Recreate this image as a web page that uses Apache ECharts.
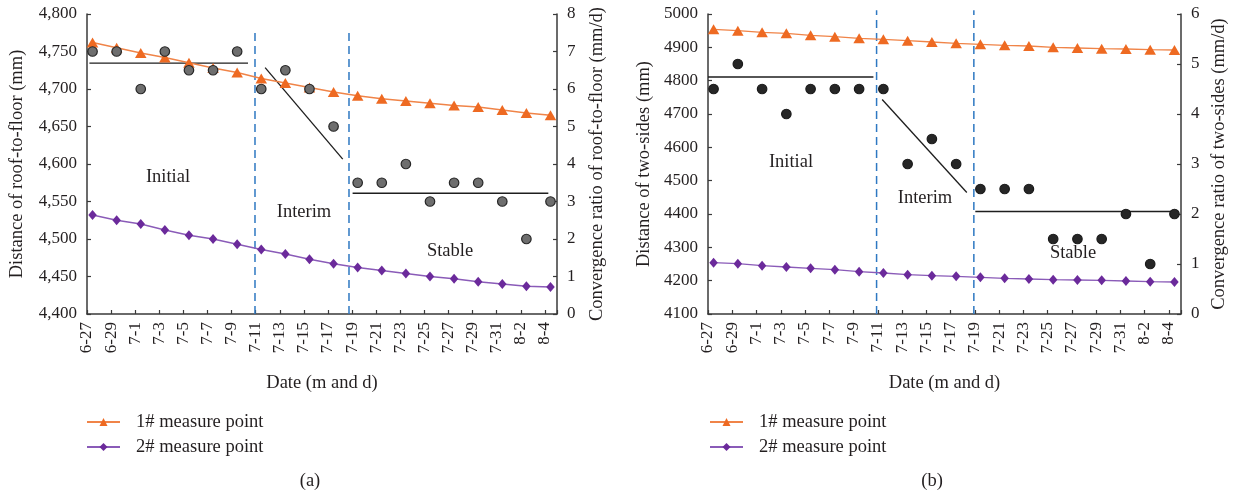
<!DOCTYPE html>
<html>
<head>
<meta charset="utf-8">
<script src="https://cdn.jsdelivr.net/npm/echarts@6/dist/echarts.min.js"></script>
<style>html,body{margin:0;padding:0;background:#fff}#c{width:1239px;height:494px}</style>
</head>
<body>
<div id="c"></div>
<script>
// ---- data ----
const dates = ['6-27','6-29','7-1','7-3','7-5','7-7','7-9','7-11','7-13','7-15','7-17','7-19','7-21','7-23','7-25','7-27','7-29','7-31','8-2','8-4'];
const seriesNames = ['1# measure point', '2# measure point'];

// (a) roof-to-floor
const roofPoint1 = [4762,4755,4748,4742,4735,4728,4722,4714,4708,4702,4696,4691,4687,4684,4681,4678,4676,4672,4668,4665];
const roofPoint2 = [4532,4525,4520,4512,4505,4500,4493,4486,4480,4473,4467,4462,4458,4454,4450,4447,4443,4440,4437,4436];
const roofRatio  = [7,7,6,7,6.5,6.5,7,6,6.5,6,5,3.5,3.5,4,3,3.5,3.5,3,2,3];
const roofTrendInitial = [[0.1,6.69],[6.68,6.69]];
const roofTrendInterim = [[7.39,6.57],[10.61,4.13]];
const roofTrendStable  = [[11.02,3.22],[19.14,3.22]];
const roofDividers = [6.97, 10.87];

// (b) two-sides
const sidePoint1 = [4954,4950,4945,4942,4936,4932,4927,4924,4920,4916,4912,4909,4906,4904,4900,4898,4896,4895,4893,4892];
const sidePoint2 = [4254,4251,4245,4241,4237,4233,4227,4223,4218,4215,4213,4210,4207,4205,4203,4202,4201,4199,4197,4196];
const sideRatio  = [4.5,5,4.5,4,4.5,4.5,4.5,4.5,3,3.5,3,2.5,2.5,2.5,1.5,1.5,1.5,2,1,2];
const sideTrendInitial = [[0.0,4.74],[6.82,4.74]];
const sideTrendInterim = [[7.18,4.29],[10.67,2.43]];
const sideTrendStable  = [[11.02,2.05],[19.24,2.05]];
const sideDividers = [6.95, 10.96];

const stageLabels = ['Initial','Interim','Stable'];

// ---- style ----
const FONT = 'Liberation Serif';
const TXT = '#231f20';
const AX = '#3a3a3a';
const OFFSET = 0.23;  // point position within a date slot
const ORANGE = '#EE6A22', ORANGE_LINE = '#F08448';
const PURPLE = '#6B2A9B', PURPLE_LINE = '#8A5BB8';
const BLUE = '#2E78C2';

function xAxis(gi){
  return {
    type:'value', gridIndex:gi, min:0, max:19.5, interval:1,
    name:'Date (m and d)', nameLocation:'middle', nameGap:60,
    nameTextStyle:{fontFamily:FONT,fontSize:18.5,color:TXT},
    axisLine:{lineStyle:{color:AX,width:1.5}},
    axisTick:{inside:true,length:4,lineStyle:{color:AX,width:1.2}},
    splitLine:{show:false},
    axisLabel:{rotate:90,margin:8,fontFamily:FONT,fontSize:17,color:TXT,
      formatter:v=> (Number.isInteger(v) && v < dates.length) ? dates[v] : ''}
  };
}
function yAxis(gi,pos,min,max,interval,name,gap,fmt){
  return {
    type:'value', gridIndex:gi, position:pos, min, max, interval,
    name, nameLocation:'middle', nameGap:gap, nameRotate:90,
    nameTextStyle:{fontFamily:FONT,fontSize:18.5,color:TXT},
    axisLine:{show:true,lineStyle:{color:AX,width:1.5}},
    axisTick:{show:true,inside:true,length:4,lineStyle:{color:AX,width:1.2}},
    splitLine:{show:false},
    axisLabel:{margin:10,fontFamily:FONT,fontSize:17,color:TXT,formatter:fmt}
  };
}

function panelSeries(gi, p1, p2, ratio, trends, dividers, yTopLeft, yBottomLeft, dotFill, dotBorder){
  const xi = gi, yl = gi*2, yr = gi*2+1;
  const out = [];
  dividers.forEach(d=>{
    out.push({type:'line', xAxisIndex:xi, yAxisIndex:yl, data:[[d,yBottomLeft],[d,yTopLeft]],
      symbol:'none', clip:false, silent:true, z:1,
      lineStyle:{color:BLUE,width:1.5,type:[8,5]}});
  });
  trends.forEach(t=>{
    out.push({type:'line', xAxisIndex:xi, yAxisIndex:yr, data:t, symbol:'none', silent:true, z:2,
      lineStyle:{color:'#1e1e1e',width:1.3}});
  });
  out.push({name:seriesNames[0], type:'line', xAxisIndex:xi, yAxisIndex:yl,
    data:p1.map((v,i)=>[i+OFFSET,v]), symbol:'triangle', symbolSize:[11.5,10],
    itemStyle:{color:ORANGE}, lineStyle:{color:ORANGE_LINE,width:1.4}, z:3});
  out.push({name:seriesNames[1], type:'line', xAxisIndex:xi, yAxisIndex:yl,
    data:p2.map((v,i)=>[i+OFFSET,v]), symbol:'diamond', symbolSize:[8.5,10],
    itemStyle:{color:PURPLE}, lineStyle:{color:PURPLE_LINE,width:1.4}, z:3});
  out.push({name:'ratio'+gi, type:'scatter', xAxisIndex:xi, yAxisIndex:yr,
    data:ratio.map((v,i)=>[i+OFFSET,v]), symbol:'circle', symbolSize:9.5,
    itemStyle:{color:dotFill,borderColor:dotBorder,borderWidth:1.2,opacity:1}, z:4});
  return out;
}

function txt(t,x,y){
  return {type:'text', x, y, silent:true,
    style:{text:t, fill:TXT, font:'18.5px "'+FONT+'"', textAlign:'center', textVerticalAlign:'middle'}};
}

const legendBase = {
  orient:'vertical', itemWidth:33, itemHeight:10, itemGap:5,
  data:seriesNames, selectedMode:false,
  textStyle:{fontFamily:FONT,fontSize:18.5,color:TXT,lineHeight:20,padding:[0,0,0,11]}
};

const option = {
  animation:false,
  backgroundColor:'#fff',
  grid:[
    {left:87, top:14, width:470, height:300},
    {left:708, top:14, width:473, height:300}
  ],
  xAxis:[xAxis(0), xAxis(1)],
  yAxis:[
    yAxis(0,'left',4400,4800,50,'Distance of roof-to-floor (mm)',60,v=>v.toLocaleString('en-US')),
    yAxis(0,'right',0,8,1,'Convergence ratio of roof-to-floor (mm/d)',31,v=>String(v)),
    yAxis(1,'left',4100,5000,100,'Distance of two-sides (mm)',54,v=>String(v)),
    yAxis(1,'right',0,6,1,'Convergence ratio of two-sides (mm/d)',29,v=>String(v))
  ],
  legend:[
    Object.assign({left:81, top:407}, legendBase),
    Object.assign({left:704, top:407}, legendBase)
  ],
  series:[
    ...panelSeries(0, roofPoint1, roofPoint2, roofRatio,
      [roofTrendInitial, roofTrendInterim, roofTrendStable], roofDividers, 4781, 4400, '#6e6e6e', '#262626'),
    ...panelSeries(1, sidePoint1, sidePoint2, sideRatio,
      [sideTrendInitial, sideTrendInterim, sideTrendStable], sideDividers, 5011, 4100, '#262626', '#1a1a1a')
  ],
  graphic:[
    txt(stageLabels[0],168,177), txt(stageLabels[1],304,212), txt(stageLabels[2],450,251),
    txt(stageLabels[0],791,162), txt(stageLabels[1],925,198), txt(stageLabels[2],1073,253),
    txt('(a)',310,481), txt('(b)',932,481)
  ]
};

const chart = echarts.init(document.getElementById('c'), null, {renderer:'canvas'});
chart.setOption(option);
</script>
</body>
</html>
